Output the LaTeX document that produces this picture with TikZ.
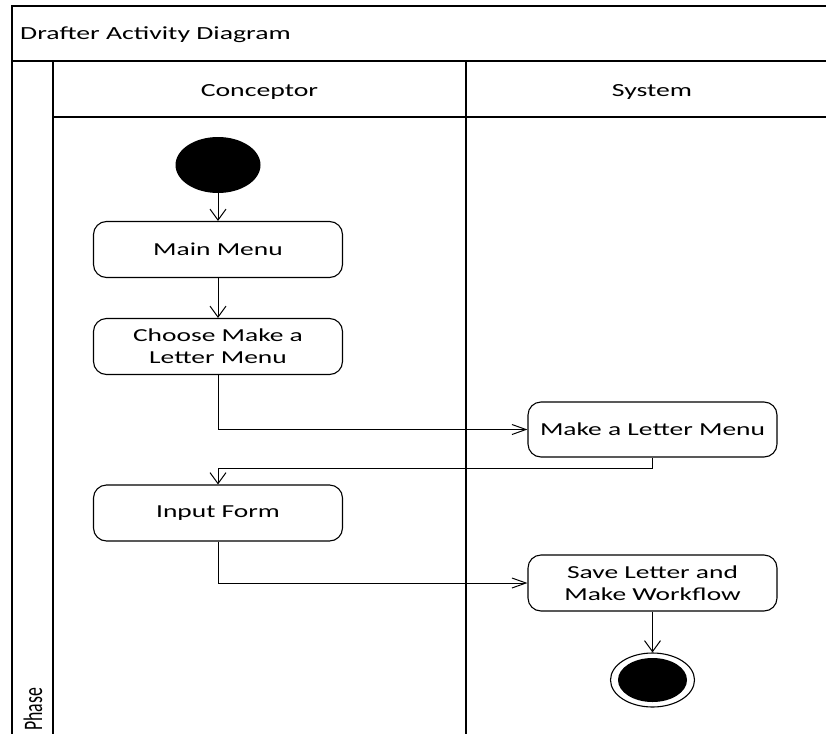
\documentclass[tikz,border=0pt]{standalone}
\usepackage{fontspec}
\setmainfont{Carlito}[FakeStretch=1.5]
\newfontfamily\phasefont{Carlito}
\usetikzlibrary{arrows.meta,shapes.geometric}
\begin{document}
\begin{tikzpicture}[x=1pt,y=-1pt,
  frameline/.style={draw=black, line width=1.3pt},
  action/.style={draw, line width=1.1pt, rounded corners=13pt,
    minimum width=249pt, minimum height=56pt, inner sep=0pt,
    align=center, font=\fontsize{18.3}{22}\selectfont},
  txt/.style={font=\fontsize{18.5}{22}\selectfont, inner sep=0pt},
  vflow/.style={line width=1pt, -{Straight Barb[length=11pt,width=16pt]}},
  hflow/.style={line width=1pt, -{Straight Barb[length=14pt,width=10pt]}}
]
\useasboundingbox (0,0) rectangle (826,733);

% swimlane frame
\draw[frameline] (12,6) rectangle (840,760);
\draw[frameline] (12,61) -- (840,61);
\draw[frameline] (53,61) -- (53,760);
\draw[frameline] (53,117) -- (840,117);
\draw[frameline, line width=1.8pt] (466,61) -- (466,760);

% headings
\node[txt, anchor=base west] (title) at (20,39.5) {Drafter Activity Diagram};
\node[txt, anchor=base] (conceptor) at (259.5,96) {Conceptor};
\node[txt, anchor=base] (system) at (652,96) {System};
\node[rotate=90, anchor=base west, inner sep=0pt,
      font=\phasefont\fontsize{17.8}{20}\selectfont] (phase) at (42,731)
      {\scalebox{1}[1.5]{Phase}};

% initial and final states
\node[ellipse, fill=black, minimum width=85pt, minimum height=56pt, inner sep=0pt] (start) at (218,165) {};
\node[ellipse, draw, line width=1.1pt, fill=white, minimum width=84pt, minimum height=54pt, inner sep=0pt] (end) at (652.5,680) {};
\node[ellipse, fill=black, minimum width=69pt, minimum height=44pt, inner sep=0pt] (endin) at (end.center) {};

% actions
\node[action] (mainmenu) at (218,249.5) {\raisebox{-1.5pt}{Main Menu}};
\node[action] (choose) at (218,346.5) {\raisebox{-1.5pt}{Choose Make a}\\\raisebox{-1.5pt}{Letter Menu}};
\node[action, minimum height=55pt] (makemenu) at (652.5,429.5) {\raisebox{-1.5pt}{Make a Letter Menu}};
\node[action] (input) at (218,513) {\raisebox{-1.5pt}{Input Form}};
\node[action] (save) at (652.5,583) {\raisebox{-1.5pt}{Save Letter and}\\\raisebox{-1.5pt}{Make Workflow}};

% control flow
\draw[vflow] (start) -- (mainmenu);
\draw[vflow] (mainmenu) -- (choose);
\draw[hflow] (choose.south) |- (makemenu.west);
\draw[vflow] (makemenu.south) -- ++(0,11) -| (input.north);
\draw[hflow] (input.south) |- (save.west);
\draw[vflow] (save) -- (end);
\end{tikzpicture}
\end{document}
